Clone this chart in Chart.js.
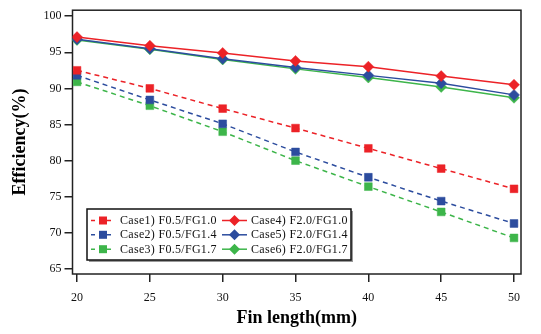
<!DOCTYPE html>
<html><head><meta charset="utf-8">
<script src="https://cdn.jsdelivr.net/npm/chart.js@4/dist/chart.umd.min.js"></script>
<style>html,body{margin:0;padding:0;background:#fff}#wrap{width:541px;height:334px;position:relative}</style>
</head><body><div id="wrap"><canvas id="c" width="541" height="334"></canvas></div>
<script>
const finLength = [20, 25, 30, 35, 40, 45, 50];
const xTickValues = [20, 25, 30, 35, 40, 45, 50];
const yTickValues = [65, 70, 75, 80, 85, 90, 95, 100];
const seriesLabels = ["Case1) F0.5/FG1.0","Case2) F0.5/FG1.4","Case3) F0.5/FG1.7","Case4) F2.0/FG1.0","Case5) F2.0/FG1.4","Case6) F2.0/FG1.7"];
const case1 = [92.5, 90.0, 87.2, 84.5, 81.7, 78.9, 76.1];
const case2 = [91.8, 88.4, 85.1, 81.2, 77.7, 74.4, 71.3];
const case3 = [90.9, 87.6, 84.0, 80.0, 76.4, 72.9, 69.3];
const case4 = [97.1, 95.9, 94.9, 93.8, 93.0, 91.7, 90.5];
const case5 = [96.8, 95.5, 94.1, 92.9, 91.8, 90.7, 89.1];
const case6 = [96.7, 95.4, 94.0, 92.7, 91.5, 90.2, 88.7];
const seriesValues = [case1, case2, case3, case4, case5, case6];

const RED = '#ec2227', BLUE = '#2c4c9e', GREEN = '#3db54a';
const colors = [RED, BLUE, GREEN, RED, BLUE, GREEN];

const datasets = seriesValues.map((vals, i) => {
  const dashed = i < 3;
  return {
    label: seriesLabels[i],
    data: vals.map((v, j) => ({x: finLength[j], y: v})),
    borderColor: colors[i],
    backgroundColor: colors[i],
    borderWidth: 1.5,
    borderDash: dashed ? [5, 4] : [],
    pointStyle: dashed ? 'rect' : 'rectRot',
    pointRadius: 5.5,
    pointBorderWidth: 0.5,
    pointBorderColor: colors[i],
    tension: 0,
    fill: false
  };
});

const framePlugin = {
  id: 'frame',
  beforeDatasetsDraw(chart) {
    const a = chart.chartArea, ctx = chart.ctx;
    ctx.save();
    ctx.strokeStyle = '#222';
    ctx.lineWidth = 1.5;
    ctx.strokeRect(a.left, a.top, a.right - a.left, a.bottom - a.top);
    ctx.restore();
  }
};

const legendPlugin = {
  id: 'boxLegend',
  afterDraw(chart) {
    const ctx = chart.ctx;
    const bx = 87, by = 209, bw = 264, bh = 51;
    ctx.save();
    ctx.fillStyle = '#999';
    ctx.fillRect(bx + 2, by + 2, bw, bh);
    ctx.fillStyle = '#fff';
    ctx.fillRect(bx, by, bw, bh);
    ctx.strokeStyle = '#111';
    ctx.lineWidth = 1.5;
    ctx.strokeRect(bx, by, bw, bh);
    const rowsY = [220.5, 234.8, 249.2];
    const cols = [{x0: 91, x1: 115, tx: 120}, {x0: 222, x1: 247, tx: 251}];
    chart.data.datasets.forEach((ds, i) => {
      const col = cols[i < 3 ? 0 : 1];
      const y = rowsY[i % 3];
      ctx.strokeStyle = ds.borderColor;
      ctx.fillStyle = ds.borderColor;
      ctx.lineWidth = 1.5;
      ctx.setLineDash(ds.borderDash.length ? [4, 4] : []);
      ctx.beginPath();
      ctx.moveTo(col.x0, y); ctx.lineTo(col.x1, y); ctx.stroke();
      ctx.setLineDash([]);
      const cx = (col.x0 + col.x1) / 2;
      ctx.beginPath();
      if (i < 3) {
        ctx.rect(cx - 4, y - 4, 8, 8);
      } else {
        ctx.moveTo(cx, y - 5.5); ctx.lineTo(cx + 5.5, y); ctx.lineTo(cx, y + 5.5); ctx.lineTo(cx - 5.5, y); ctx.closePath();
      }
      ctx.fill();
      ctx.fillStyle = '#111';
      ctx.font = '12px "Liberation Serif"';
      try { ctx.letterSpacing = '0.3px'; } catch (e) {}
      ctx.textBaseline = 'middle';
      ctx.textAlign = 'left';
      ctx.fillText(ds.label, col.tx, y + 0.5);
      try { ctx.letterSpacing = '0px'; } catch (e) {}
    });
    ctx.restore();
  }
};

new Chart(document.getElementById('c'), {
  type: 'line',
  data: { datasets },
  plugins: [framePlugin, legendPlugin],
  options: {
    responsive: false,
    animation: false,
    devicePixelRatio: 1,
    layout: { padding: { top: 8, right: 20, left: 0, bottom: 0 } },
    plugins: { legend: { display: false }, tooltip: { enabled: false } },
    scales: {
      x: {
        type: 'linear',
        min: 19.69, max: 50.48,
        afterBuildTicks(s) { s.ticks = xTickValues.map(v => ({value: v})); },
        afterFit(s) { s.height = 60; },
        border: { display: false },
        grid: { drawOnChartArea: false, drawTicks: true, tickLength: 8, color: '#222', lineWidth: 1.5 },
        ticks: { color: '#111', font: { family: 'Liberation Serif', size: 12 }, padding: 9, maxRotation: 0 },
        title: { display: true, text: 'Fin length(mm)', color: '#000', font: { family: 'Liberation Serif', size: 18, weight: 'bold' }, padding: { top: 0, bottom: 5 } }
      },
      y: {
        type: 'linear',
        min: 64.31, max: 100.82,
        afterBuildTicks(s) { s.ticks = yTickValues.map(v => ({value: v})); },
        afterFit(s) { s.width = 72.5; },
        border: { display: false },
        grid: { drawOnChartArea: false, drawTicks: true, tickLength: 8, color: '#222', lineWidth: 1.5 },
        ticks: { color: '#111', font: { family: 'Liberation Serif', size: 12 }, padding: 3 },
        title: { display: true, text: 'Efficiency(%)', color: '#000', font: { family: 'Liberation Serif', size: 18, weight: 'bold' }, padding: { top: 10, bottom: 0 } }
      }
    }
  }
});
</script>
</body></html>
